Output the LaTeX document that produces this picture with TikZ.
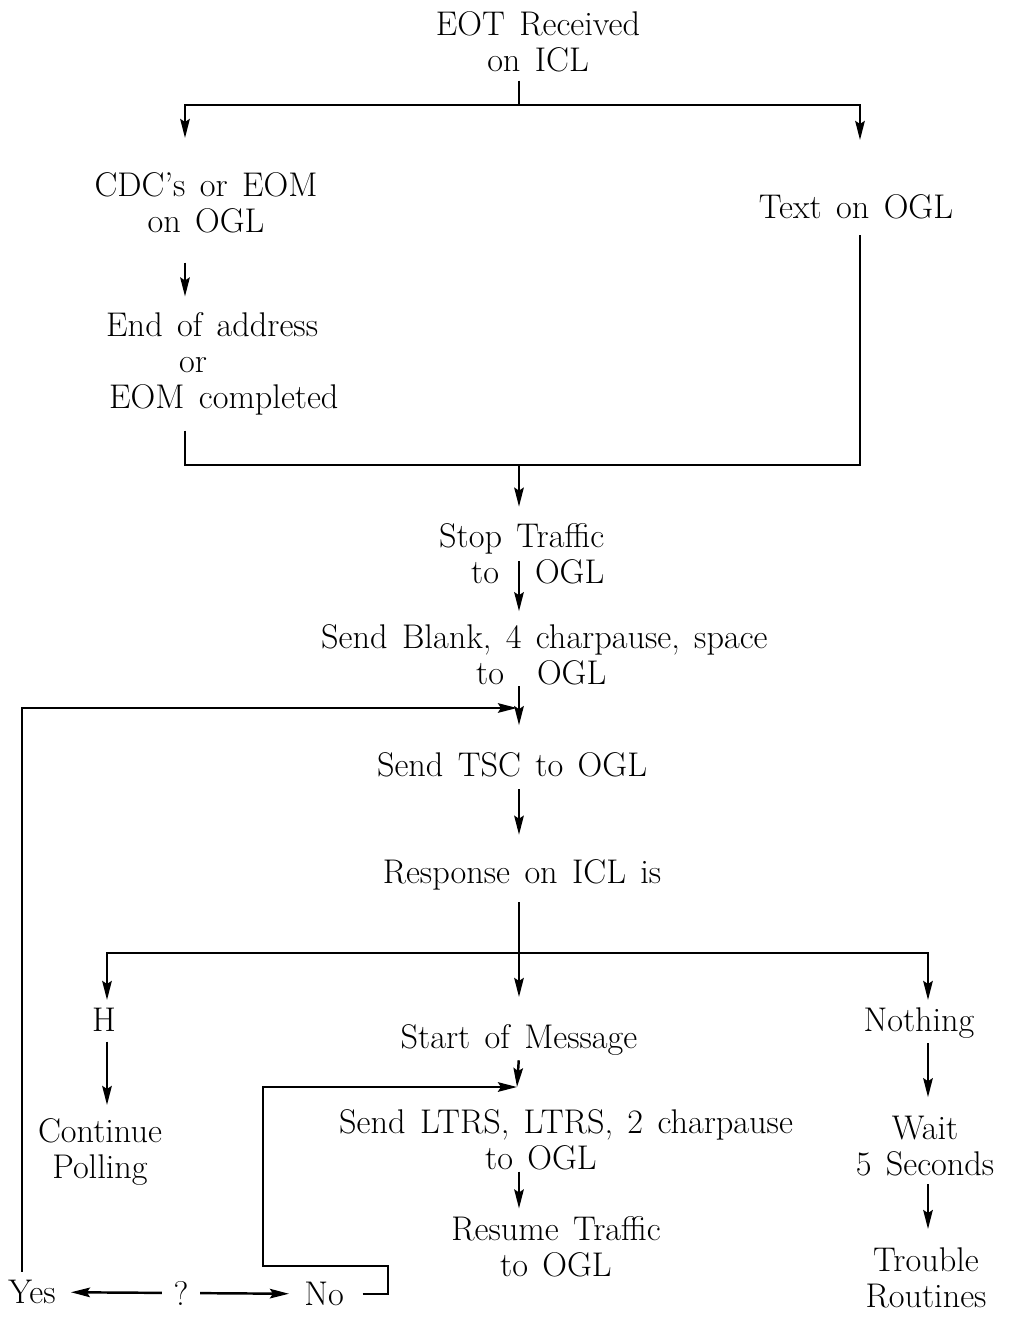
\documentclass[tikz,border=0pt]{standalone}
\usetikzlibrary{arrows.meta,calc}
\newcommand\lblfont{\fontsize{19.5}{20.5}\selectfont\spaceskip=0.42em plus 0.1em\relax}
\tikzset{arr/.style = {-{Stealth[length=3.8mm, width=1.9mm, inset=0.6mm]}, shorten > = 8pt, shorten < = 4pt}}
\tikzset{lbl/.style = {inner sep = 0, align = center, font = \lblfont}}
\tikzset{lblL/.style = {lbl, align = left, anchor = west}}

\begin{document}
\begin{tikzpicture}[x=0.02cm, y=-0.02cm, line width=1.4pt]
    \useasboundingbox (0,0) rectangle (1013,1322);
    % columns
    \coordinate (spine) at (519,0);
    \coordinate (colA) at (185,0);
    \coordinate (colB) at (860,0);
    \coordinate (colL) at (22,0);
    % text
    \node[lbl] (eot) at (538,42) {EOT Received\\on ICL};
    \node[lbl] (cdc) at (206,203) {CDC's or EOM\\on OGL};
    \node[lbl] (txt) at (856,207) {Text on OGL};
    \node[lblL] (eoa) at (105,364) {End of address\\\hspace*{1.46cm}or\\\hspace*{0.06cm}EOM completed};
    \node[lblL] (stop) at (438,554) {Stop Traffic\\\hspace*{0.64cm}to\hspace{0.72cm}OGL};
    \node[lblL] (blank) at (320,655) {Send Blank, 4 charpause, space\\\hspace*{3.1cm}to\hspace{0.66cm}OGL};
    \node[lbl] (tsc) at (512,765) {Send TSC to OGL};
    \node[lbl] (resp) at (522,875) {Response on ICL is};
    \node[lbl] (h) at (104,1020) {H};
    \node[lbl] (som) at (519,1040) {Start of Message};
    \node[lbl] (noth) at (919,1023) {Nothing};
    \node[lbl] (cont) at (100,1152) {Continue\\Polling};
    \node[lblL] (ltrs) at (338,1140) {Send LTRS, LTRS, 2 charpause\\\hspace*{2.92cm}to OGL};
    \node[lbl] (resume) at (556,1247) {Resume Traffic\\to OGL};
    \node[lbl] (wait) at (925,1146) {Wait\\5 Seconds};
    \node[lbl] (trouble) at (926,1278) {Trouble\\Routines};
    \node[lbl] (yes) at (32,1292) {Yes};
    \node[lbl] (q) at (181,1293) {?};
    \node[lbl] (no) at (324,1294) {No};
    % junctions
    \coordinate (t0) at (519,105);
    \coordinate (cdcin) at (185,138);
    \coordinate (txtin) at (860,140);
    \coordinate (j0) at (519,465);
    \coordinate (loopin) at (517,708);
    \coordinate (r0) at (519,953);
    \coordinate (hin) at (107,1000);
    \coordinate (somin) at (519,997);
    \coordinate (nin) at (928,1000);
    \coordinate (nr) at (388,1266);
    \coordinate (nl) at (263,1087);
    \coordinate (ltrsin) at (517,1087);
    % connectors
    \draw[shorten < = 4pt] (eot.south -| t0) -- (t0);
    \draw[arr, shorten < = 0pt, shorten > = 0pt] (t0) -| (cdcin);
    \draw[arr, shorten < = 0pt, shorten > = 0pt] (t0) -| (txtin);
    \draw[arr, shorten < = 16pt, shorten > = 8.5pt] (cdc.south -| colA) -- (eoa.north -| colA);
    \draw[shorten < = 8pt] (eoa.south -| colA) |- (j0);
    \draw[shorten > = 8pt] (j0) -| (txt.south -| colB);
    \draw[arr, shorten < = 0pt, shorten > = 9pt] (j0) -- (stop.north -| spine);
    \draw[arr, shorten > = 7pt] (stop.center -| spine) -- (blank.north -| spine);
    \draw[arr, shorten < = 0pt, shorten > = 15pt] (blank.south -| spine) -- (tsc.north -| spine);
    \draw[arr, shorten > = 0pt] (yes.north -| colL) |- (loopin);
    \draw[arr, shorten < = 6pt, shorten > = 13.5pt] (tsc.south -| spine) -- (resp.north -| spine);
    \draw[shorten < = 6pt] (resp.south -| spine) -- (r0);
    \draw[arr, shorten < = 0pt, shorten > = 0pt] (r0) -| (hin);
    \draw[arr, shorten < = 0pt, shorten > = 0pt] (r0) -- (somin);
    \draw[arr, shorten < = 0pt, shorten > = 0pt] (r0) -| (nin);
    \draw[arr, shorten < = 5pt, shorten > = 7pt] (h.south -| hin) -- (cont.north -| hin);
    \draw[arr, shorten < = 2pt, shorten > = 0pt] (som.south -| spine) -- (ltrsin);
    \draw[arr, shorten < = 10pt, shorten > = 0pt] (no.east) -| (nr) -| (nl) -- (ltrsin);
    \draw[arr, shorten < = 0pt, shorten > = 4pt] (ltrs.south -| spine) -- (resume.north -| spine);
    \draw[arr, shorten < = 2pt, shorten > = 10pt] (noth.south -| nin) -- (wait.north -| nin);
    \draw[arr, shorten < = 4pt, shorten > = 10pt] (wait.south -| nin) -- (trouble.north -| nin);
    \draw[arr, shorten < = 6pt, shorten > = 8pt] (q) -- (yes);
    \draw[arr, shorten < = 6pt, shorten > = 8pt] (q) -- (no);
\end{tikzpicture}
\end{document}
